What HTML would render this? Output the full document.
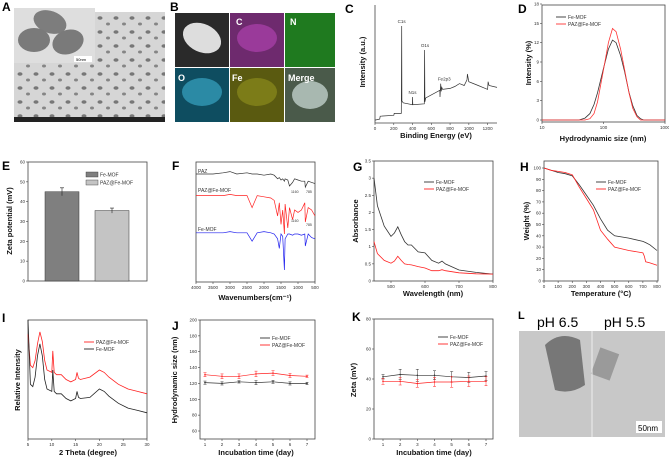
<!DOCTYPE html>
<html><head><meta charset="utf-8"><style>
body{margin:0;background:#fff;width:669px;height:460px;overflow:hidden}
svg{display:block;font-family:"Liberation Sans",Arial,sans-serif}
</style></head><body>
<svg id="s" width="669" height="460" viewBox="0 0 669 460" xmlns="http://www.w3.org/2000/svg">
<defs>
<pattern id="tem" width="16" height="14" patternUnits="userSpaceOnUse"><rect width="16" height="14" fill="#d6d6d6"/><ellipse cx="4" cy="4" rx="2.5" ry="1.8" fill="#777"/><ellipse cx="12" cy="10" rx="2" ry="1.5" fill="#858585"/></pattern>
</defs>
<!-- A -->
<text x="2" y="11" font-size="12" font-weight="bold">A</text>
<g>
<rect x="14" y="12" width="151" height="110" fill="url(#tem)"/>
<rect x="14" y="8" width="81" height="55" fill="#dedede"/>
<ellipse cx="50" cy="22" rx="17" ry="11" fill="#7d7d7d" transform="rotate(20 50 22)"/>
<ellipse cx="34" cy="40" rx="16" ry="12" fill="#7a7a7a"/>
<ellipse cx="68" cy="42" rx="16" ry="12" fill="#7a7a7a" transform="rotate(-20 68 42)"/>
<rect x="74" y="56" width="18" height="6" fill="#fff"/><text x="76" y="61" font-size="4">50nm</text>
<rect x="14" y="117" width="151" height="5" fill="#222"/>
</g>
<!-- B -->
<text x="170" y="11" font-size="12" font-weight="bold">B</text>
<g font-size="9" font-weight="bold" fill="#fff">
<rect x="175" y="13" width="54" height="54" fill="#2a2a2a"/><ellipse cx="202" cy="38" rx="20" ry="14" fill="#ddd" transform="rotate(25 202 38)"/>
<rect x="230" y="13" width="54" height="54" fill="#6e2a6e"/><ellipse cx="257" cy="38" rx="20" ry="14" fill="#9a3a9a"/>
<rect x="285" y="13" width="50" height="54" fill="#1f7a1f"/>
<rect x="175" y="68" width="54" height="54" fill="#0e4d60"/><ellipse cx="202" cy="92" rx="20" ry="14" fill="#2b8aa5"/>
<rect x="230" y="68" width="54" height="54" fill="#5a5a10"/><ellipse cx="257" cy="92" rx="20" ry="14" fill="#7c7c18"/>
<rect x="285" y="68" width="50" height="54" fill="#4a5a4a"/><ellipse cx="310" cy="95" rx="18" ry="14" fill="#a8b8b0"/>
<text x="236" y="25">C</text><text x="290" y="25">N</text><text x="178" y="81">O</text><text x="232" y="81">Fe</text><text x="288" y="81">Merge</text>
</g>
<!-- L -->
<text x="518" y="319" font-size="11" font-weight="bold">L</text>
<g>
<rect x="519" y="331" width="146" height="106" fill="#c8c8c8"/>
<path d="M545 345 Q560 330 580 340 L585 385 Q570 395 555 390 Z" fill="#777"/>
<rect x="595" y="350" width="20" height="28" fill="#9a9a9a" transform="rotate(20 605 364)"/>
<line x1="592" y1="331" x2="592" y2="437" stroke="#eee" stroke-width="1"/>
<rect x="636" y="421" width="26" height="12" fill="#fff"/><text x="638" y="431" font-size="8">50nm</text>
<text x="537" y="327" font-size="14">pH 6.5</text><text x="604" y="327" font-size="14">pH 5.5</text>
</g>
<g id="plots"></g>
</svg>
<script>
// C XPS
const xpsE=[0,50,55,200,205,280,284,287,300,398,400,403,525,529,532,540,690,693,700,705,712,720,800,850,900,950,980,985,1000,1100,1200,1205,1215,1300];
const xpsI=[2,3,6,7,9,9,100,22,20,18,26,18,19,75,21,25,33,26,40,32,36,34,35,37,40,38,44,50,42,38,34,42,38,36];
// D DLS
const dlsX=[10,40,50,60,70,80,100,120,140,160,190,220,260,300,350,400,450,1000];
const dlsFe=[0,0,0.3,1,2.4,4.2,8,11,12.4,12,10,7.5,4.3,2.2,0.7,0.2,0,0];
const dlsPaz=[0,0,0,0.2,1,2.8,7.8,12,14.2,13.7,11,7.8,4.2,1.8,0.5,0,0,0];
// E zeta bars
const zetaCats=["Fe-MOF","PAZ@Fe-MOF"];const zetaVals=[45,35.5];const zetaErr=[2,1.3];
// F FTIR
const ftirX=[4000,3500,3200,3000,2800,2500,2350,2200,2000,1800,1700,1600,1550,1500,1450,1400,1380,1300,1250,1160,1100,1000,900,800,785,700,600,500];
const ftirPaz=[90,90,91,92,90,91,90,90,89,90,89,86,87,85,86,84,86,85,80,83,86,85,84,84,79,84,83,82];
const ftirPazFe=[72,72,72,73,72,72,62,72,71,70,68,55,66,48,60,40,65,45,62,52,60,58,60,66,50,62,60,55];
const ftirFe=[41,41,41,42,41,41,34,41,42,41,40,36,28,40,38,10,36,40,40,39,40,40,39,40,30,40,37,36];
// G UV-vis
const uvX=[450,460,480,500,510,520,530,540,550,560,580,600,620,640,650,660,700,750,800];
const uvFe=[3.0,2.2,1.6,1.3,1.4,1.58,1.35,1.15,1.05,1.05,0.85,0.82,0.6,0.52,0.58,0.5,0.32,0.25,0.2];
const uvPaz=[1.15,0.8,0.6,0.52,0.58,0.72,0.6,0.5,0.48,0.47,0.42,0.38,0.3,0.3,0.33,0.3,0.24,0.21,0.2];
// H TGA
const tgaX=[0,50,100,150,200,250,300,350,400,450,500,600,700,710,720,750,800];
const tgaFe=[100,98,96,95,93,85,76,67,55,45,40,38,35,34.5,34,32,27];
const tgaPaz=[100,98,97,96,94,83,73,63,45,37,30,27,25,22,17,16,14];
// I XRD
const xrdX=[5,5.5,6,6.5,7,7.5,8,8.5,9,10,10.2,10.5,11,12,13,14,15,15.3,15.6,16,18,20,21,22,24,26,28,30];
const xrdPaz=[88,62,60,66,80,90,82,66,58,56,74,56,54,54,50,48,50,56,51,50,52,58,56,52,46,42,40,38];
const xrdFe=[100,46,44,52,70,80,70,50,42,40,58,40,38,38,34,32,34,40,35,34,35,42,40,36,30,26,24,22];
// J hydrodynamic size stability
const days=[1,2,3,4,5,6,7];
const jFe=[121,120,122,121,122,120,120];const jFeErr=[2,2,1.5,2.5,2,2,1.5];
const jPaz=[131,129,129,132,133,130,129];const jPazErr=[2.5,3,3,3.5,3,2.5,1.5];
// K zeta stability
const kFe=[41.5,43,42.5,42.5,41.5,41,42];const kFeErr=[1.5,3.5,4,3,3.5,3.5,3];
const kPaz=[38.5,38.5,37,38,38,38.5,38.5];const kPazErr=[2,2.5,2.5,3,3.5,3.5,3];

const NS="http://www.w3.org/2000/svg";const P=document.getElementById('plots');
function el(t,a,parent){const e=document.createElementNS(NS,t);for(const k in a)e.setAttribute(k,a[k]);(parent||P).appendChild(e);return e;}
function txt(x,y,s,a,parent){const e=el('text',Object.assign({x:x,y:y,'font-size':5,fill:'#333'},a||{}),parent);e.textContent=s;return e;}
function lin(d0,d1,r0,r1){return v=>r0+(v-d0)/(d1-d0)*(r1-r0);}
function logs(d0,d1,r0,r1){return v=>r0+(Math.log10(v)-Math.log10(d0))/(Math.log10(d1)-Math.log10(d0))*(r1-r0);}
function panel(name,letter,lx,ly,box,frame){
  const g=el('g',{});
  
  
  const L=txt(lx,ly,letter,{'font-size':12,'font-weight':'bold',fill:'#000'},g);
  
  
  if(frame!==false){el('rect',{x:box[0],y:box[1],width:box[2]-box[0],height:box[3]-box[1],fill:'none',stroke:'#444','stroke-width':0.8},g);}
  else{el('path',{d:`M${box[0]} ${box[1]}V${box[3]}H${box[2]}`,fill:'none',stroke:'#444','stroke-width':0.8},g);}
  return g;
}
function xticks(g,vals,sx,yb,labels){vals.forEach((v,i)=>{el('line',{x1:sx(v),x2:sx(v),y1:yb,y2:yb+2,stroke:'#444','stroke-width':.6},g);txt(sx(v),yb+7,labels?labels[i]:String(v),{'text-anchor':'middle','font-size':4.5},g);});}
function yticks(g,vals,sy,xl){vals.forEach(v=>{el('line',{x1:xl-2,x2:xl,y1:sy(v),y2:sy(v),stroke:'#444','stroke-width':.6},g);txt(xl-3,sy(v)+1.5,String(v),{'text-anchor':'end','font-size':4.5},g);});}
function xlab(g,x,y,s){txt(x,y,s,{'text-anchor':'middle','font-size':7.5,'font-weight':'bold',fill:'#111'},g);}
function ylab(g,x,y,s){txt(x,y,s,{'text-anchor':'middle','font-size':7.5,'font-weight':'bold',fill:'#111',transform:`rotate(-90 ${x} ${y})`},g);}
function line(g,xs,ys,sx,sy,c,w,name){const d=xs.map((v,i)=>(i?'L':'M')+sx(v).toFixed(1)+' '+sy(ys[i]).toFixed(1)).join('');const p=el('path',{d:d,fill:'none',stroke:c,'stroke-width':w||0.8},g);return p;}
function legend(g,x,y,items){items.forEach((it,i)=>{const lg=el('g',{},g);el('line',{x1:x,x2:x+10,y1:y+i*7,y2:y+i*7,stroke:it[1],'stroke-width':.9},lg);txt(x+12,y+i*7+1.8,it[0],{'font-size':5},lg);});}

// C
{const box=[375,5,497,123];const g=panel('xps-chart','C',345,13,box,false);
const sx=lin(0,1300,375,497),sy=lin(0,100,122,26);
xticks(g,[0,200,400,600,800,1000,1200],sx,123);
line(g,xpsE,xpsI,sx,sy,'#333',.7,'xps-line');
[['C1s',284,100],['O1s',531,75],['N1s',400,26],['Fe2p3',712,40]].forEach(a=>txt(sx(a[1])-4,sy(a[2])-3,a[0],{'font-size':4.5},g));
xlab(g,436,138,'Binding Energy (eV)');ylab(g,365,62,'Intensity (a.u.)');}
// D
{const box=[542,5,665,122];const g=panel('dls-chart','D',518,13,box);
const sx=logs(10,1000,542,665),sy=lin(0,18,120,4);
xticks(g,[10,100,1000],sx,122);yticks(g,[0,3,6,9,12,15,18],sy,542);
line(g,dlsX,dlsFe,sx,sy,'#333',.8,'dls-fe-mof');line(g,dlsX,dlsPaz,sx,sy,'#f33',.8,'dls-paz');
legend(g,556,17,[['Fe-MOF','#333'],['PAZ@Fe-MOF','#f33']]);
xlab(g,603,141,'Hydrodynamic size (nm)');ylab(g,531,63,'Intensity (%)');}
// E
{const box=[28,162,147,281];const g=panel('zeta-bar-chart','E',2,170,box);
const sy=lin(0,60,281,162);const cx=[62,112];const cols=['#7f7f7f','#c4c4c4'];
yticks(g,[0,10,20,30,40,50,60],sy,28);
zetaVals.forEach((v,i)=>{const r=el('rect',{x:cx[i]-17,y:sy(v),width:34,height:281-sy(v),fill:cols[i],stroke:'#333','stroke-width':.5},g);
el('path',{d:`M${cx[i]} ${sy(v+zetaErr[i])}V${sy(v-zetaErr[i])}M${cx[i]-2} ${sy(v+zetaErr[i])}h4`,stroke:'#222','stroke-width':.6},g);});
zetaCats.forEach((c,i)=>{const lg=el('g',{},g);el('rect',{x:86,y:172+i*8,width:12,height:5,fill:cols[i],stroke:'#333','stroke-width':.4},lg);txt(100,176.5+i*8,c,{'font-size':5},lg);});
ylab(g,12,221,'Zeta potential (mV)');}
// F
{const box=[196,162,315,282];const g=panel('ftir-chart','F',172,170,box);
const sx=lin(4000,500,196,315),sy=lin(0,100,282,162);
xticks(g,[4000,3500,3000,2500,2000,1500,1000,500],sx,282);
line(g,ftirX,ftirPaz,sx,sy,'#333',.7,'ftir-paz');line(g,ftirX,ftirPazFe,sx,sy,'#f22',.7,'ftir-paz-fe-mof');line(g,ftirX,ftirFe,sx,sy,'#22e',.7,'ftir-fe-mof');
txt(198,173,'PAZ',{},g);txt(198,192,'PAZ@Fe-MOF',{},g);txt(198,231,'Fe-MOF',{},g);
txt(291,193,'1160',{'font-size':3.5},g);txt(306,193,'785',{'font-size':3.5},g);txt(291,222,'1160',{'font-size':3.5},g);txt(306,226,'785',{'font-size':3.5},g);
xlab(g,255,300,'Wavenumbers(cm\u207B\u00B9)');}
// G
{const box=[374,161,493,281];const g=panel('uv-vis-chart','G',353,171,box);
const sx=lin(450,800,374,493),sy=lin(0,3.5,281,161);
xticks(g,[500,600,700,800],sx,281);yticks(g,[0,0.5,1,1.5,2,2.5,3,3.5],sy,374);
line(g,uvX,uvFe,sx,sy,'#333',.8,'uv-fe-mof');line(g,uvX,uvPaz,sx,sy,'#f22',.8,'uv-paz');
legend(g,424,182,[['Fe-MOF','#333'],['PAZ@Fe-MOF','#f22']]);
xlab(g,433,296,'Wavelength (nm)');ylab(g,358,221,'Absorbance');}
// H
{const box=[544,161,658,281];const g=panel('tga-chart','H',520,171,box);
const sx=lin(0,800,544,657),sy=lin(0,100,281,168);
xticks(g,[0,100,200,300,400,500,600,700,800],sx,281);yticks(g,[0,10,20,30,40,50,60,70,80,90,100],sy,544);
line(g,tgaX,tgaFe,sx,sy,'#333',.8,'tga-fe-mof');line(g,tgaX,tgaPaz,sx,sy,'#f22',.8,'tga-paz');
legend(g,596,182,[['Fe-MOF','#333'],['PAZ@Fe-MOF','#f22']]);
xlab(g,601,296,'Temperature (\u00B0C)');ylab(g,529,221,'Weight (%)');}
// I
{const box=[28,320,147,439];const g=panel('xrd-chart','I',2,322,box);
const sx=lin(5,30,28,147),sy=lin(0,100,439,320);
xticks(g,[5,10,15,20,25,30],sx,439);
line(g,xrdX,xrdPaz,sx,sy,'#f22',.8,'xrd-paz');line(g,xrdX,xrdFe,sx,sy,'#222',.8,'xrd-fe-mof');
legend(g,84,342,[['PAZ@Fe-MOF','#f22'],['Fe-MOF','#222']]);
xlab(g,88,455,'2 Theta (degree)');ylab(g,20,380,'Relative Intensity');}
function errs(g,xs,ys,es,sx,sy,c){xs.forEach((v,i)=>{const x=sx(v);el('path',{d:`M${x} ${sy(ys[i]+es[i])}V${sy(ys[i]-es[i])}M${x-1.5} ${sy(ys[i]+es[i])}h3M${x-1.5} ${sy(ys[i]-es[i])}h3`,stroke:c,'stroke-width':.5,fill:'none'},g);el('circle',{cx:x,cy:sy(ys[i]),r:.8,fill:c},g);});}
// J
{const box=[200,320,315,439];const g=panel('size-stability-chart','J',172,330,box);
const sx=lin(1,7,205,307),sy=lin(60,200,431,320);
xticks(g,days,sx,439);yticks(g,[60,80,100,120,140,160,180,200],sy,200);
line(g,days,jFe,sx,sy,'#333',.7,'j-fe-mof');errs(g,days,jFe,jFeErr,sx,sy,'#333');
line(g,days,jPaz,sx,sy,'#f22',.7,'j-paz');errs(g,days,jPaz,jPazErr,sx,sy,'#f22');
legend(g,260,338,[['Fe-MOF','#333'],['PAZ@Fe-MOF','#f22']]);
xlab(g,256,455,'Incubation time (day)');ylab(g,177,380,'Hydrodynamic size (nm)');}
// K
{const box=[374,319,493,439];const g=panel('zeta-stability-chart','K',352,321,box);
const sx=lin(1,7,383,486),sy=lin(0,80,439,319);
xticks(g,days,sx,439);yticks(g,[0,20,40,60,80],sy,374);
line(g,days,kFe,sx,sy,'#333',.7,'k-fe-mof');errs(g,days,kFe,kFeErr,sx,sy,'#333');
line(g,days,kPaz,sx,sy,'#f22',.7,'k-paz');errs(g,days,kPaz,kPazErr,sx,sy,'#f22');
legend(g,438,337,[['Fe-MOF','#333'],['PAZ@Fe-MOF','#f22']]);
xlab(g,434,455,'Incubation time (day)');ylab(g,356,380,'Zeta (mV)');}
</script>
</body></html>
